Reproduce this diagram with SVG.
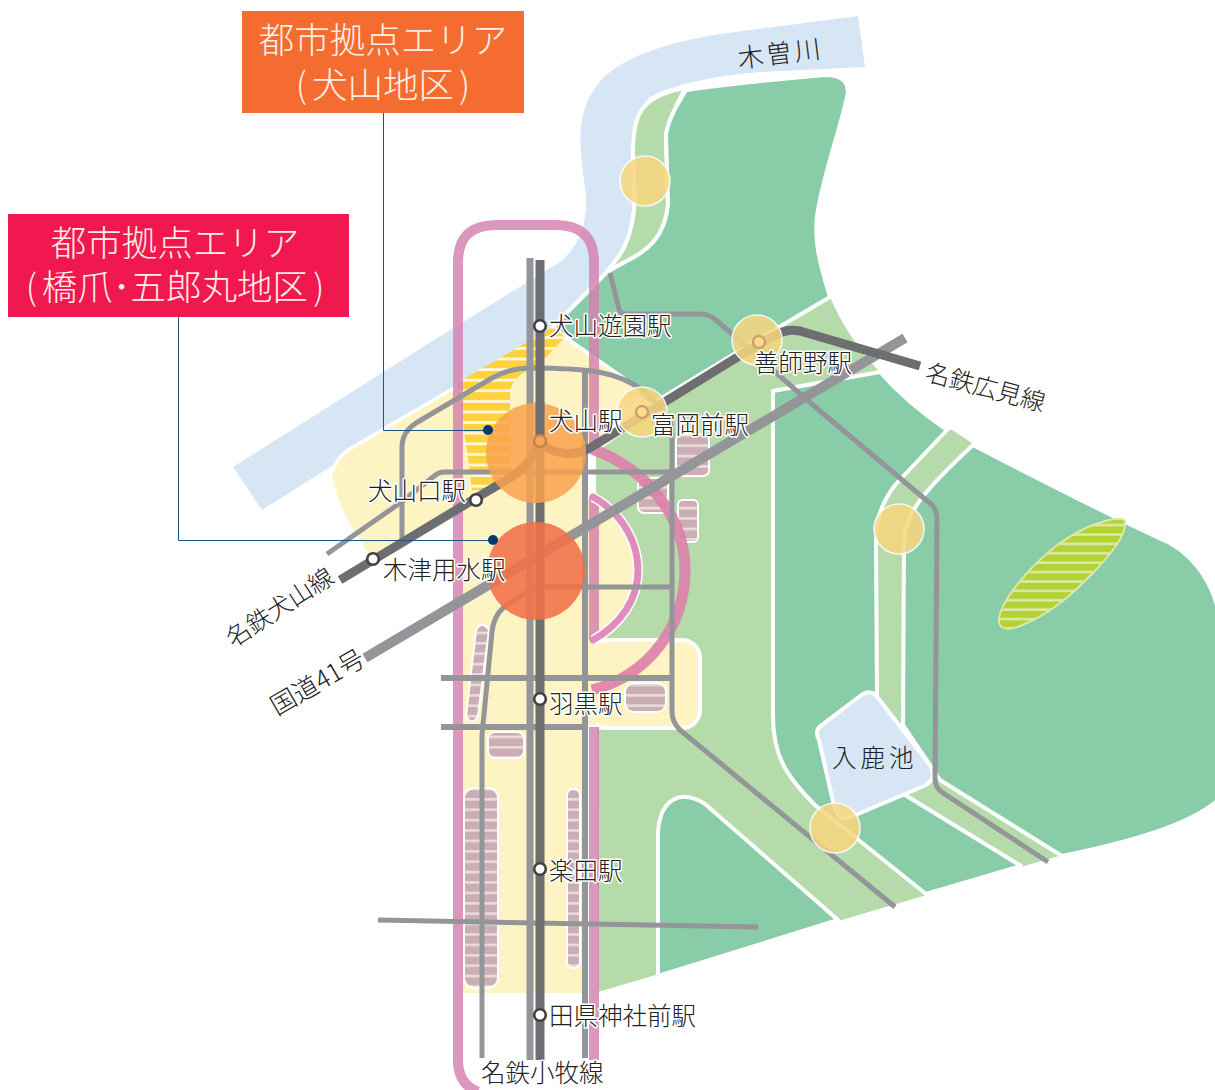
<svg xmlns="http://www.w3.org/2000/svg" width="1215" height="1090" viewBox="0 0 1215 1090">
<style>
.land{fill:#88CCA8;stroke:#fff;stroke-width:4;stroke-linejoin:round}
.road{fill:none;stroke:#939598;stroke-linejoin:round}
.rail{fill:none;stroke:#6D6E71;stroke-width:9;stroke-linejoin:round}
.frame{fill:none;stroke:#D67FB0;stroke-width:10;opacity:.82}
.bd{fill:url(#brown);stroke:#fff;stroke-width:2}
.hub{fill:#F9D67F;opacity:.85;stroke:#fff;stroke-width:1.6}
.st{fill:#fff;stroke:#414042;stroke-width:2.6}
.sti{fill:#FFD98A;stroke:#C9A468;stroke-width:2.4}
.t{font-family:"Noto Sans CJK JP","Noto Sans",sans-serif;font-weight:300;font-size:24.5px;fill:#222;stroke:#fff;stroke-width:3;paint-order:stroke;stroke-linejoin:round}
.h{font-family:"Noto Sans CJK JP","Noto Sans",sans-serif;font-weight:300;font-size:35.5px;fill:#FDEFE6;text-anchor:middle}
.lead{fill:none;stroke:#1B5585;stroke-width:1}
.dot{fill:#003A70}
</style>
<defs>
<pattern id="brown" width="10" height="10.4" patternUnits="userSpaceOnUse"><rect width="10" height="10.4" fill="#CBAEB5"/><rect y="7.6" width="10" height="2.6" fill="#EADDD6"/></pattern>
<pattern id="gold" width="10" height="10.6" patternUnits="userSpaceOnUse"><rect width="10" height="10.6" fill="#FFD13F"/><rect y="7.8" width="10" height="2.8" fill="#FFF7DC"/></pattern>
<pattern id="lime" width="10" height="9.4" patternUnits="userSpaceOnUse"><rect width="10" height="9.4" fill="#B3D233"/><rect y="6.8" width="10" height="2.6" fill="#DDE8A8"/></pattern>
</defs>

<g id="water">
<path d="M233 467 L450 330 L560 262 C580 245 587 225 586 195 C580 150 572 112 603 78 C628 55 670 42 720 34 L858 16 L865 67 L760 72 C720 75 670 85 650 97 C632 115 630 150 632 195 C634 235 620 262 600 282 L550 330 L500 360 L262 510 Z" fill="#D7E6F5"/>
</g>

<g id="land">
<path d="M596 452 L760 340 L830 297 C842 325 860 352 880 372 L940 430 L952 430 L972 443 L940 780 L1062 855 L598 992 Z" fill="#B5DBAB"/>
<path d="M685 88 C640 96 634 115 633 150 L635 200 C632 240 622 255 606 272 L625 262 C650 250 665 235 668 205 L666 135 C668 120 677 105 685 88 Z" fill="#B5DBAB" stroke="#fff" stroke-width="4"/>
<path class="land" d="M686 90 C720 85 790 78 825 75 C845 75 850 85 847 97 C840 130 825 170 818 210 C812 240 822 270 830 297 L757 340 L650 405 L565 337 L553 327 L607 272 L625 262 C650 250 665 235 668 205 L666 135 C668 120 677 105 686 90 Z"/>
<path class="land" d="M773 391 L880 372 C900 395 925 415 947 430 L895 485 C880 505 876 520 876 545 L877 700 L905 795 L1021 866 L926 894 L815 805 C785 775 773 755 773 715 Z"/>
<path class="land" d="M973 445 C1040 480 1130 525 1170 543 C1200 560 1214 590 1218 610 L1218 800 C1190 825 1130 842 1062 856 L940 780 L903 725 L904 540 C906 510 930 485 973 445 Z"/>
<path class="land" d="M658 976 V832 C660 800 680 788 705 804 L838 920 Z"/>
</g>

<g id="pond">
<path d="M819 740 C815 732 817 728 823 724 L860 696 C868 690 874 692 878 698 L930 765 C936 775 932 782 924 786 L858 814 C845 820 838 820 834 806 Z" fill="#D7E6F5" stroke="#fff" stroke-width="4"/>
</g>

<g id="urban">
<path d="M553 330 L640 392 L590 450 H588 V993 H462 V505 L373 559 C355 535 340 510 333 480 C330 465 338 456 353 447 Z" fill="#FEF3C3"/>
<path d="M333 472 Q336 456 353 447 L553 330 M565 337 L645 393" fill="none" stroke="#fff" stroke-width="3.5"/>
<rect x="588" y="640" width="112" height="88" rx="18" fill="#FEF3C3" stroke="#fff" stroke-width="4"/>
<rect x="584" y="500" width="12" height="225" fill="#FEF3C3"/>
<path d="M592 497 C625 515 640 545 640 570 C640 600 620 625 592 640 Z" fill="#FEF3C3"/>
<path d="M565 337 L553 327 L457 383 L467 450 L472 490 L490 490 L510 475 V395 Q510 380 525 372 L542 362 Z" fill="url(#gold)"/>
<rect x="676" y="434" width="33" height="42" rx="6" class="bd"/>
<rect x="638" y="478" width="30" height="35" rx="6" class="bd"/>
<rect x="678" y="500" width="20" height="42" rx="5" class="bd"/>
<rect x="625" y="683" width="41" height="29" rx="9" class="bd"/>
<rect x="488" y="732" width="36" height="26" rx="7" class="bd"/>
<rect x="464" y="788" width="34" height="200" rx="10" class="bd"/>
<rect x="567" y="789" width="13" height="179" rx="6" class="bd"/>
<path class="bd" d="M476 630 Q482 620 489 630 L478 716 Q472 727 466 716 Z"/>
<path d="M1125 521 C1127 535 1110 555 1093 573 C1080 586 1070 596 1060 603 C1045 615 1030 622 1020 626 C1010 630 1000 630 999 622 C998 610 1012 590 1027 573 C1037 562 1048 552 1060 543 C1072 535 1082 529 1093 525 C1105 520 1123 516 1125 521 Z" fill="url(#lime)" stroke="#DDE8A8" stroke-width="2"/>
</g>

<g id="zone-frame">
<path class="frame" d="M594 448 V262 Q594 225 556 225 H496 Q458 225 458 262 V1060 Q458 1084 478 1092"/>
<path class="frame" d="M594 497 V640 M594 727 V1060"/>
<path fill="none" stroke-width="11" stroke="#DD80A8" opacity=".9" d="M592 449 C650 470 685 520 685 570 C685 625 650 675 592 690"/>
<path d="M593 497 C625 515 638 545 638 570 C638 600 620 625 593 640" fill="none" stroke="#fff" stroke-width="10"/>
<path d="M593 497 C625 515 638 545 638 570 C638 600 620 625 593 640" fill="none" stroke="#E08DBD" stroke-width="7" stroke-linecap="round"/>
</g>

<g id="connectors">
<path class="road" stroke-width="7" d="M530 258 V1060"/>
<path class="road" stroke-width="6" d="M585 372 V1058"/>
<path class="road" stroke-width="5" d="M402 540 V447 Q402 432 416 423 L492 378 Q510 368 530 368 C590 368 620 372 645 392 L665 412 Q672 420 672 435 V712 Q672 722 680 730 L895 907"/>
<path class="road" stroke-width="5" d="M327 554 L400 503 L433 477 Q438 472 445 472 H672"/>
<path class="road" stroke-width="5" d="M482 1058 V735 L492 632 Q494 612 510 603 L535 587 H672"/>
<path class="road" stroke-width="6" d="M441 678 H672 M441 727 H585"/>
<path class="road" stroke-width="5" d="M378 920 L758 927"/>
<path class="road" stroke-width="5" d="M610 273 L619 309 Q620 314 626 314 H700 Q709 314 716 320 L807 400 L932 505 Q937 510 937 520 L935 778 Q935 788 943 793 L1048 862"/>
<path class="road" stroke-width="10" d="M365 658 L905 338"/>
<path class="rail" d="M540 260 V1060"/>
<path class="rail" d="M340 580 L476 498 L510 478 C525 468 535 455 540 442 C555 456 575 456 590 448 L757 345 L782 332 Q790 329 800 331 L920 366"/>
</g>

<g id="hub-circles">
<circle id="hub-1" cx="645" cy="181" r="25" class="hub"/>
<circle id="hub-2" cx="642" cy="412" r="25" class="hub"/>
<circle id="hub-3" cx="757" cy="340" r="25" class="hub"/>
<circle id="hub-4" cx="899" cy="529" r="25" class="hub"/>
<circle id="hub-5" cx="835" cy="828" r="25" class="hub"/>
</g>

<g id="area-inuyama"><circle cx="536" cy="453" r="50" fill="#F9A24E" opacity=".85"/></g>
<g id="area-hashizume"><circle cx="536" cy="571" r="49" fill="#F26F48" opacity=".88"/></g>
<path class="rail" d="M540 402 V441"/>

<g id="stations">
<circle id="st-yuen" cx="540" cy="326" r="5.8" class="st"/>
<circle id="st-inuyama" cx="540" cy="441" r="6" fill="#F7A75A" stroke="#C08050" stroke-width="2.4"/>
<circle id="st-tomioka" cx="642" cy="412" r="6" class="sti"/>
<circle id="st-zenjino" cx="759" cy="342" r="6" class="sti"/>
<circle id="st-guchi" cx="476" cy="500" r="5.8" class="st"/>
<circle id="st-kitsu" cx="373" cy="559" r="5.8" class="st"/>
<circle id="st-haguro" cx="540" cy="699" r="5.8" class="st"/>
<circle id="st-gakuden" cx="540" cy="869" r="5.8" class="st"/>
<circle id="st-tagata" cx="540" cy="1015" r="5.8" class="st"/>
</g>

<g id="leaders">
<path class="lead" d="M383.5 113 V430.5 H488"/>
<circle class="dot" cx="488" cy="430" r="5"/>
<path class="lead" d="M178.5 317 V540.5 H493"/>
<circle class="dot" cx="493" cy="540" r="5"/>
</g>

<g id="label-inuyama">
<rect x="242" y="11" width="282" height="102" fill="#F46C2F"/>
<text class="h" x="383" y="53">都市拠点エリア</text>
<text class="h" x="383" y="98">(<tspan dx="5">犬山地区</tspan><tspan dx="5">)</tspan></text>
</g>
<g id="label-hashizume">
<rect x="8" y="214" width="341" height="103" fill="#F1174F"/>
<text class="h" x="175" y="256">都市拠点エリア</text>
<text class="h" x="175" y="300">(<tspan dx="5">橋爪･五郎丸地区</tspan><tspan dx="5">)</tspan></text>
</g>

<g id="labels">
<text class="t" x="549" y="335">犬山遊園駅</text>
<text class="t" x="549" y="430">犬山駅</text>
<text class="t" x="651" y="434">富岡前駅</text>
<text class="t" x="754" y="372">善師野駅</text>
<text class="t" x="368" y="500">犬山口駅</text>
<text class="t" x="383" y="579">木津用水駅</text>
<text class="t" x="549" y="713">羽黒駅</text>
<text class="t" x="549" y="880">楽田駅</text>
<text class="t" x="549" y="1025">田県神社前駅</text>
<text class="t" x="481" y="1082">名鉄小牧線</text>
<text class="t" transform="translate(233 648) rotate(-33)">名鉄犬山線</text>
<text class="t" style="font-size:25.5px" transform="translate(277 716) rotate(-30)">国道41号</text>
<text class="t" transform="translate(924 380) rotate(15)">名鉄広見線</text>
<text class="t" style="stroke:none;font-size:26px;letter-spacing:2.5px" transform="translate(739 68) rotate(-7)">木曽川</text>
<text class="t" style="stroke:none;letter-spacing:4px" x="832" y="767">入鹿池</text>
</g>
</svg>
